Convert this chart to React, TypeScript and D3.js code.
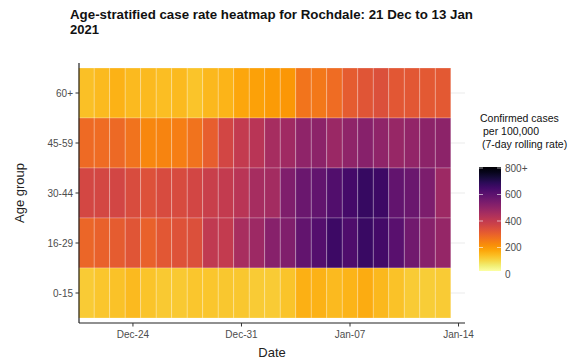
import React from "react";
import * as d3 from "d3";

const ageGroups = ["60+", "45-59", "30-44", "16-29", "0-15"];
const startDate = new Date(2020, 11, 21);
const dates = d3.range(24).map((i) => d3.timeDay.offset(startDate, i));

const rate60 = [117, 128, 139, 128, 128, 120, 126, 111, 131, 137, 158, 167, 176, 183, 244, 239, 261, 294, 311, 322, 306, 306, 302, 302];
const rate45 = [264, 261, 267, 250, 211, 217, 228, 250, 289, 350, 383, 406, 442, 456, 489, 494, 467, 489, 506, 489, 472, 483, 494, 494];
const rate30 = [344, 344, 350, 333, 320, 336, 336, 348, 369, 383, 406, 442, 450, 520, 561, 578, 611, 633, 661, 647, 578, 561, 528, 461];
const rate16 = [272, 283, 294, 311, 283, 306, 317, 322, 389, 383, 439, 461, 506, 517, 578, 606, 650, 613, 656, 636, 594, 550, 506, 478];
const rate0 = [98, 109, 114, 128, 111, 102, 103, 107, 107, 106, 106, 100, 100, 111, 141, 139, 126, 137, 147, 131, 113, 98, 96, 100];

const seriesByAge: Record<string, number[]> = {
  "60+": rate60,
  "45-59": rate45,
  "30-44": rate30,
  "16-29": rate16,
  "0-15": rate0,
};

const xTickDates = [new Date(2020, 11, 24), new Date(2020, 11, 31), new Date(2021, 0, 7), new Date(2021, 0, 14)];
const legendTicks = [0, 200, 400, 600, 800];
const legendMax = 800;

const W = 586;
const H = 362;
const panel = { left: 79, right: 465, top: 63, bottom: 323 };

export default function App() {
  const x = d3
    .scaleTime()
    .domain([new Date(2020, 11, 20, 12, 30), new Date(2021, 0, 14, 10)])
    .range([panel.left, panel.right]);
  const y = d3.scaleBand().domain(ageGroups).range([68, 318]).padding(0);
  const color = (v: number) => d3.interpolateInferno(1 - Math.min(v, legendMax) / legendMax);

  const cells: { age: string; date: Date; v: number }[] = [];
  ageGroups.forEach((a) => seriesByAge[a].forEach((v, i) => cells.push({ age: a, date: dates[i], v })));

  const leg = d3.scaleLinear().domain([0, legendMax]).range([274, 168]);
  const barX = 479;
  const barW = 22;
  const stops = d3.range(0, 1.0001, 0.05);
  const fmtX = d3.timeFormat("%b-%d");
  const gray = "#4d4d4d";
  const font = "Liberation Sans, Arial, sans-serif";

  return (
    <svg width={W} height={H} style={{ position: "absolute", left: 0, top: 0, background: "#fff" }} fontFamily={font}>
      <defs>
        <linearGradient id="lg" x1="0" y1="1" x2="0" y2="0">
          {stops.map((s) => (
            <stop key={s} offset={s} stopColor={color(s * legendMax)} />
          ))}
        </linearGradient>
      </defs>
      {/* title */}
      <text x={70} y={19} fontSize={13.5} fontWeight="bold" fill="#111" textLength={403} lengthAdjust="spacingAndGlyphs">
        Age-stratified case rate heatmap for Rochdale: 21 Dec to 13 Jan
      </text>
      <text x={70} y={34} fontSize={13.5} fontWeight="bold" fill="#111" textLength={29} lengthAdjust="spacingAndGlyphs">
        2021
      </text>
      {/* gridlines */}
      {ageGroups.map((a) => (
        <line key={a} x1={panel.left} x2={panel.right} y1={y(a)! + y.bandwidth() / 2} y2={y(a)! + y.bandwidth() / 2} stroke="#ebebeb" strokeWidth={1} />
      ))}
      {/* tiles */}
      {cells.map((c, i) => {
        const x0 = x(d3.timeHour.offset(c.date, -12));
        const x1 = x(d3.timeHour.offset(c.date, 12));
        return (
          <rect
            key={i}
            x={x0}
            y={y(c.age)}
            width={x1 - x0}
            height={y.bandwidth()}
            fill={color(c.v)}
            stroke="rgba(255,255,255,0.3)"
            strokeWidth={0.8}
          />
        );
      })}
      {/* axes */}
      <line x1={panel.left} x2={panel.left} y1={panel.top} y2={panel.bottom} stroke="#222" strokeWidth={1.2} />
      <line x1={panel.left} x2={panel.right} y1={panel.bottom} y2={panel.bottom} stroke="#222" strokeWidth={1.2} />
      {ageGroups.map((a) => {
        const cy = y(a)! + y.bandwidth() / 2;
        return (
          <g key={a}>
            <line x1={panel.left - 3.5} x2={panel.left} y1={cy} y2={cy} stroke="#333" strokeWidth={1} />
            <text x={panel.left - 6} y={cy + 3.5} fontSize={10} fill={gray} textAnchor="end">
              {a}
            </text>
          </g>
        );
      })}
      {xTickDates.map((d) => {
        const px = x(d);
        return (
          <g key={+d}>
            <line x1={px} x2={px} y1={panel.bottom} y2={panel.bottom + 3.5} stroke="#333" strokeWidth={1} />
            <text x={px} y={panel.bottom + 15} fontSize={10} fill={gray} textAnchor="middle">
              {fmtX(d)}
            </text>
          </g>
        );
      })}
      <text x={(panel.left + panel.right) / 2} y={357} fontSize={13} fill="#222" textAnchor="middle">
        Date
      </text>
      <text transform={`translate(24, ${(panel.top + panel.bottom) / 2}) rotate(-90)`} fontSize={13} fill="#222" textAnchor="middle">
        Age group
      </text>
      {/* legend */}
      <text x={480} y={122} fontSize={10.5} fill="#111">Confirmed cases</text>
      <text x={483} y={135} fontSize={10.5} fill="#111">per 100,000</text>
      <text x={482} y={148} fontSize={10.5} fill="#111">(7-day rolling rate)</text>
      <rect x={barX} y={leg(legendMax) - 1} width={barW} height={leg(0) - leg(legendMax) - 2} fill="url(#lg)" />
      {legendTicks.map((t) => (
        <g key={t}>
          <line x1={barX} x2={barX + 4} y1={leg(t)} y2={leg(t)} stroke="rgba(255,255,255,0.6)" />
          <line x1={barX + barW - 4} x2={barX + barW} y1={leg(t)} y2={leg(t)} stroke="rgba(255,255,255,0.6)" />
          <text x={505} y={leg(t) + 3.5} fontSize={10} fill={gray}>
            {t === legendMax ? `${t}+` : t}
          </text>
        </g>
      ))}
    </svg>
  );
}
